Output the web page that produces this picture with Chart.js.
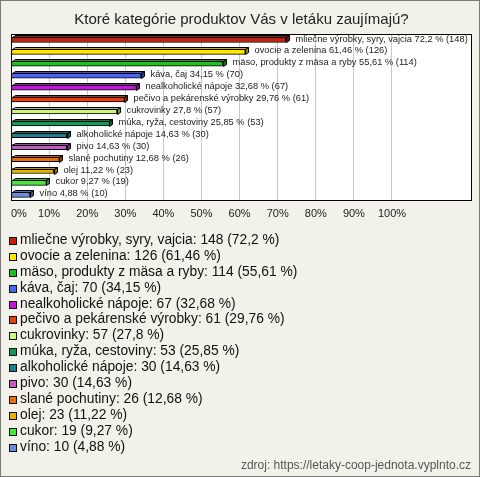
<!DOCTYPE html>
<html lang="sk">
<head>
<meta charset="utf-8">
<script src="https://cdn.jsdelivr.net/npm/chart.js@4"></script>
<style>
  html, body { margin: 0; padding: 0; }
  body { width: 480px; height: 477px; overflow: hidden; }
  #wrap {
    position: relative; width: 478px; height: 475px;
    background: #f3f2ea; border: 1px solid #7a7a7a;
  }
  #chart { position: absolute; left: -1px; top: -1px; }
  #legend {
    position: absolute; left: 8px; top: 231px;
    font: 13.8px "Liberation Sans", Arial, sans-serif; color: #111;
  }
  #legend div { height: 15.9px; line-height: 15.9px; white-space: nowrap; }
  #legend span.sw {
    display: inline-block; width: 6px; height: 6px; border: 1px solid #111;
    margin-right: 3px; vertical-align: -1px;
  }
  #source {
    position: absolute; right: 8px; top: 457px;
    font: 12px "Liberation Sans", Arial, sans-serif; color: #555;
  }
</style>
</head>
<body>
<div id="wrap">
  <canvas id="chart" width="480" height="477"></canvas>
  <div id="legend"></div>
  <div id="source">zdroj: https://letaky-coop-jednota.vyplnto.cz</div>
</div>
<script>
"use strict";

const CATEGORIES = [
  "mliečne výrobky, syry, vajcia", "ovocie a zelenina", "mäso, produkty z mäsa a ryby",
  "káva, čaj", "nealkoholické nápoje", "pečivo a pekárenské výrobky", "cukrovinky",
  "múka, ryža, cestoviny", "alkoholické nápoje", "pivo", "slané pochutiny", "olej",
  "cukor", "víno",
];
const COUNTS = [148, 126, 114, 70, 67, 61, 57, 53, 30, 30, 26, 23, 19, 10];
const PERCENTS = [72.2, 61.46, 55.61, 34.15, 32.68, 29.76, 27.8, 25.85, 14.63, 14.63, 12.68, 11.22, 9.27, 4.88];
const COLORS = [
  "#c4200c", "#ffe500", "#1fbf1f", "#4a66f0", "#c418d8", "#e4400c", "#ccf584",
  "#149858", "#1c7f8c", "#c05cc4", "#e8700c", "#e8b400", "#44e83c", "#6c8ce0",
];
const X_TICKS_MAX = 100;

function fmt(v) { return String(v).replace(".", ","); }

function darken(hex, f) {
  const n = parseInt(hex.slice(1), 16);
  const r = Math.round(((n >> 16) & 255) * f);
  const g = Math.round(((n >> 8) & 255) * f);
  const b = Math.round((n & 255) * f);
  return `rgb(${r},${g},${b})`;
}

// white plot area with black frame
const frame = {
  id: "frame",
  beforeDraw(chart) {
    const { ctx, chartArea: a } = chart;
    ctx.save();
    ctx.fillStyle = "#ffffff";
    ctx.fillRect(a.left, a.top, a.right - a.left, a.bottom - a.top);
    ctx.restore();
  },
  afterDraw(chart) {
    const { ctx, chartArea: a } = chart;
    ctx.save();
    ctx.strokeStyle = "#000";
    ctx.lineWidth = 1;
    ctx.strokeRect(Math.round(a.left) + 0.5, Math.round(a.top) + 0.5,
      Math.round(a.right - a.left) - 1, Math.round(a.bottom - a.top) - 1);
    ctx.restore();
  },
};

// 3D depth on bars + value labels
const bars3d = {
  id: "bars3d",
  afterDatasetsDraw(chart) {
    const { ctx } = chart;
    const meta = chart.getDatasetMeta(0);
    const dx = 3, dy = 2;
    ctx.save();
    ctx.lineWidth = 1;
    ctx.strokeStyle = "#000";
    meta.data.forEach((bar, i) => {
      const x1 = Math.round(bar.base) + 0.5;
      const x2 = Math.round(bar.x) + 0.5;
      const y1 = Math.round(bar.y - bar.height / 2) + 0.5;
      const y2 = Math.round(bar.y + bar.height / 2) + 0.5;
      ctx.fillStyle = darken(COLORS[i], 0.8);
      ctx.beginPath();
      ctx.moveTo(x1, y1); ctx.lineTo(x1 + dx, y1 - dy);
      ctx.lineTo(x2 + dx, y1 - dy); ctx.lineTo(x2, y1); ctx.closePath();
      ctx.fill(); ctx.stroke();
      ctx.fillStyle = darken(COLORS[i], 0.6);
      ctx.beginPath();
      ctx.moveTo(x2, y1); ctx.lineTo(x2 + dx, y1 - dy);
      ctx.lineTo(x2 + dx, y2 - dy); ctx.lineTo(x2, y2); ctx.closePath();
      ctx.fill(); ctx.stroke();

      ctx.fillStyle = "#222";
      ctx.font = '9.3px "Liberation Sans", Arial, sans-serif';
      ctx.textBaseline = "middle";
      ctx.textAlign = "left";
      ctx.fillText(`${CATEGORIES[i]} ${fmt(PERCENTS[i])} % (${COUNTS[i]})`, x2 + dx + 6, bar.y - 1);
    });
    ctx.restore();
  },
};

new Chart(document.getElementById("chart"), {
  type: "bar",
  data: {
    labels: CATEGORIES,
    datasets: [{
      data: PERCENTS,
      backgroundColor: COLORS,
      borderColor: "#000",
      borderWidth: 1,
      borderSkipped: false,
      barThickness: 5,
    }],
  },
  options: {
    indexAxis: "y",
    responsive: false,
    animation: false,
    layout: { padding: { left: 11, right: 8, top: 0, bottom: 249 } },
    scales: {
      x: {
        min: 0, max: 121,
        afterFit: (axis) => { axis.paddingLeft = 0; axis.paddingRight = 0; },
        ticks: {
          stepSize: 10,
          padding: 7,
          align: "inner",
          color: "#222",
          font: { family: '"Liberation Sans", Arial, sans-serif', size: 11 },
          callback: v => (v <= X_TICKS_MAX ? v + "%" : ""),
        },
        grid: {
          color: (c) => (c.tick && c.tick.value > X_TICKS_MAX ? "rgba(0,0,0,0)" : "#c8c8c8"),
          drawTicks: false,
        },
        border: { display: false },
      },
      y: { display: false },
    },
    plugins: {
      legend: { display: false },
      tooltip: { enabled: false },
      title: {
        display: true,
        text: "Ktoré kategórie produktov Vás v letáku zaujímajú?",
        color: "#222",
        font: { family: '"Liberation Sans", Arial, sans-serif', size: 15, weight: "normal" },
        padding: { top: 11, bottom: 5 },
      },
    },
  },
  plugins: [frame, bars3d],
});

document.getElementById("legend").innerHTML = CATEGORIES.map((c, i) =>
  `<div><span class="sw" style="background:${COLORS[i]}"></span>${c}: ${COUNTS[i]} (${fmt(PERCENTS[i])} %)</div>`
).join("");
</script>
</body>
</html>
